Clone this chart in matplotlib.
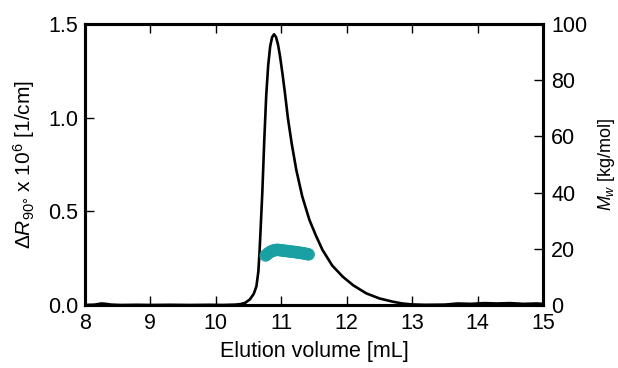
import matplotlib
matplotlib.use("Agg")
import matplotlib.pyplot as plt

# ================== DATA ==================
# light scattering trace (elution volume in mL, dR90 x 1e6 in 1/cm)
volume = [8.0, 8.15, 8.25, 8.32, 8.4, 8.55, 8.8, 9.0, 9.3, 9.6, 9.9, 10.1, 10.3,
          10.38, 10.45, 10.52, 10.58, 10.62, 10.65, 10.67, 10.69, 10.71, 10.74,
          10.77, 10.8, 10.83, 10.86, 10.89, 10.92, 10.95, 10.98, 11.02, 11.06,
          11.1, 11.16, 11.23, 11.32, 11.43, 11.53, 11.63, 11.78, 11.94, 12.1,
          12.3, 12.5, 12.7, 12.85, 13.0, 13.2, 13.5, 13.7, 13.9, 14.1, 14.3,
          14.5, 14.7, 14.9, 15.0]
rayleigh = [0.0, 0.002, 0.008, 0.006, 0.002, 0.0, 0.001, 0.0, 0.001, 0.0, 0.001, 0.0, 0.002,
            0.005, 0.012, 0.03, 0.06, 0.1, 0.18, 0.3, 0.45, 0.6, 0.88,
            1.12, 1.28, 1.38, 1.43, 1.445, 1.43, 1.39, 1.33, 1.23, 1.12,
            1.0, 0.86, 0.72, 0.58, 0.454, 0.37, 0.294, 0.21, 0.151, 0.105,
            0.062, 0.035, 0.018, 0.008, 0.003, 0.001, 0.002, 0.008, 0.006, 0.01, 0.008,
            0.01, 0.006, 0.008, 0.006]

# molar mass points across the peak (kg/mol)
mw_volume = [10.76, 10.78, 10.80, 10.82, 10.84, 10.86, 10.88, 10.90, 10.92, 10.94,
             10.96, 10.98, 11.00, 11.02, 11.04, 11.06, 11.08, 11.10, 11.12, 11.14,
             11.16, 11.18, 11.20, 11.22, 11.24, 11.26, 11.28, 11.30, 11.32, 11.34,
             11.36, 11.38, 11.40, 11.42]
mw = [17.6, 18.0, 18.4, 18.7, 19.0, 19.2, 19.4, 19.5, 19.6, 19.6,
      19.6, 19.5, 19.5, 19.4, 19.3, 19.3, 19.2, 19.2, 19.1, 19.0,
      19.0, 18.9, 18.9, 18.8, 18.7, 18.7, 18.6, 18.5, 18.5, 18.4,
      18.3, 18.2, 18.1, 18.0]

# ================== STYLE ==================
plt.rcParams["font.family"] = ["Liberation Sans", "DejaVu Sans"]
plt.rcParams["font.size"] = 15.5
plt.rcParams["mathtext.fontset"] = "custom"
plt.rcParams["mathtext.rm"] = "Liberation Sans"
plt.rcParams["mathtext.it"] = "Liberation Sans:italic"

teal = "#19a0a3"

fig = plt.figure(figsize=(6.18, 3.68), dpi=100)
ax = fig.add_axes([85 / 618, 63 / 368, 458 / 618, 281 / 368])
ax2 = ax.twinx()

ax.plot(volume, rayleigh, color="black", lw=1.9, zorder=3)
ax2.scatter(mw_volume, mw, s=80, color=teal, edgecolors="none", alpha=0.9, zorder=4)

ax.set_xlim(8, 15)
ax.set_ylim(0, 1.5)
ax2.set_ylim(0, 100)

ax.set_xticks(range(8, 16))
ax.set_yticks([0.0, 0.5, 1.0, 1.5])
ax.set_yticklabels(["0.0", "0.5", "1.0", "1.5"])
ax2.set_yticks([0, 20, 40, 60, 80, 100])

ax.tick_params(axis="x", direction="in", top=True, length=6.5, width=1, pad=5.5)
ax.tick_params(axis="y", direction="in", length=6.5, width=1, pad=5)
ax2.tick_params(axis="y", direction="in", length=6.5, width=1, pad=6)

for a in (ax, ax2):
    for s in a.spines.values():
        s.set_linewidth(2.2)

ax.set_xlabel("Elution volume [mL]", labelpad=5)
ax.set_ylabel("Δ$R_{90°}$ x 10$^6$ [1/cm]", fontsize=15, labelpad=8)
ax2.set_ylabel("$M_w$ [kg/mol]", fontsize=13, labelpad=6)

fig.savefig("out.png", dpi=100, facecolor="white")
